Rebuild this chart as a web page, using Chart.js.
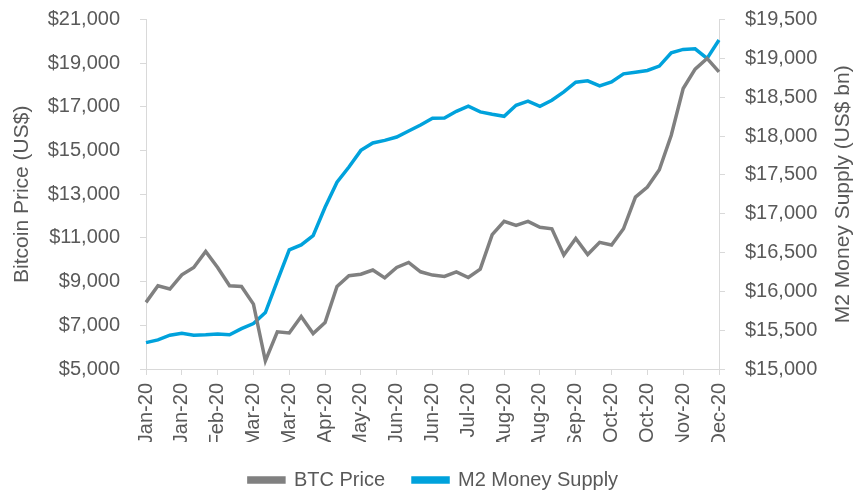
<!DOCTYPE html>
<html lang="en">
  <head>
    <meta charset="UTF-8" />
    <title>BTC price vs M2 money supply</title>
    <style>
      html,
      body {
        margin: 0;
        padding: 0;
        background: #fff;
        overflow: hidden;
      }
      #wrap {
        width: 867px;
        height: 494px;
      }
    </style>
  </head>
  <body>
    <div id="wrap"><canvas id="chart"></canvas></div>
    <script src="https://cdn.jsdelivr.net/npm/chart.js@4.4.1/dist/chart.umd.min.js"></script>
    <script>
      // Weekly observations (Mondays, from 6 Jan 2020), shown as Mon-YY
      const weeks = [
        "Jan-20", "Jan-20", "Jan-20", "Jan-20",
        "Feb-20", "Feb-20", "Feb-20", "Feb-20",
        "Mar-20", "Mar-20", "Mar-20", "Mar-20", "Mar-20",
        "Apr-20", "Apr-20", "Apr-20", "Apr-20",
        "May-20", "May-20", "May-20", "May-20",
        "Jun-20", "Jun-20", "Jun-20", "Jun-20", "Jun-20",
        "Jul-20", "Jul-20", "Jul-20", "Jul-20",
        "Aug-20", "Aug-20", "Aug-20", "Aug-20", "Aug-20",
        "Sep-20", "Sep-20", "Sep-20", "Sep-20",
        "Oct-20", "Oct-20", "Oct-20", "Oct-20",
        "Nov-20", "Nov-20", "Nov-20", "Nov-20", "Nov-20",
        "Dec-20",
      ];

      // Bitcoin price, US$
      const btcPrice = [
        8050, 8810, 8660, 9310, 9650, 10380, 9650, 8810, 8780, 7970,
        5370, 6700, 6650, 7400, 6620, 7130, 8780, 9270, 9340, 9530,
        9170, 9650, 9880, 9450, 9300, 9240, 9450, 9190, 9570, 11150,
        11760, 11570, 11760, 11490, 11420, 10220, 10980, 10240, 10800, 10680,
        11420, 12870, 13330, 14120, 15700, 17840, 18730, 19220, 18600,
      ];

      // M2 money supply, US$ bn
      const m2Supply = [
        15340, 15375, 15435, 15460, 15435, 15440, 15450, 15440, 15520, 15585,
        15727, 16135, 16533, 16597, 16717, 17083, 17405, 17600, 17815, 17910,
        17944, 17987, 18064, 18142, 18228, 18232, 18318, 18383, 18310, 18280,
        18254, 18396, 18448, 18383, 18460, 18568, 18693, 18710, 18645, 18697,
        18800, 18822, 18844, 18900, 19071, 19115, 19123, 19000, 19235,
      ];

      // Axis ranges
      const btcTicks = { min: 5000, max: 21000, step: 2000 };
      const m2Ticks = { min: 15000, max: 19500, step: 500 };
      const labelEvery = 3;
      const rightTitle = "M2 Money Supply (US$ bn)";

      const font = "'Liberation Sans', Arial, sans-serif";
      const textColor = "#595959";
      const axisColor = "#d9d9d9";
      const gray = "#808080";
      const blue = "#00a2dc";

      function dollars(v) {
        return "$" + Number(v).toLocaleString("en-US");
      }

      // Chart.js turns right-hand titles the other way; Excel reads bottom-up.
      const rightTitlePlugin = {
        id: "rightTitle",
        afterDraw(chart) {
          const { ctx, chartArea } = chart;
          ctx.save();
          ctx.translate(843, (chartArea.top + chartArea.bottom) / 2);
          ctx.rotate(-Math.PI / 2);
          ctx.font = "21px " + font;
          ctx.fillStyle = textColor;
          ctx.textAlign = "center";
          ctx.textBaseline = "middle";
          ctx.fillText(rightTitle, 0, 0);
          ctx.restore();
        },
      };

      // fixed box sizes so the plot area lands where the original has it
      function fixY(width) {
        return (scale) => {
          scale.width = width;
          scale.paddingTop = 0;
          scale.paddingBottom = 0;
        };
      }

      Chart.defaults.font.family = font;
      Chart.defaults.color = textColor;

      const ctx = document.getElementById("chart").getContext("2d");
      new Chart(ctx, {
        type: "line",
        data: {
          labels: weeks,
          datasets: [
            {
              label: "BTC Price",
              data: btcPrice,
              yAxisID: "y",
              borderColor: gray,
              backgroundColor: gray,
              borderWidth: 3.5,
              pointRadius: 0,
              tension: 0,
            },
            {
              label: "M2 Money Supply",
              data: m2Supply,
              yAxisID: "y2",
              borderColor: blue,
              backgroundColor: blue,
              borderWidth: 3.5,
              pointRadius: 0,
              tension: 0,
            },
          ],
        },
        plugins: [rightTitlePlugin],
        options: {
          responsive: true,
          maintainAspectRatio: false,
          animation: false,
          layout: { padding: { top: 19.5, left: 0, right: 0, bottom: -6 } },
          plugins: {
            tooltip: { enabled: false },
            legend: {
              position: "bottom",
              labels: {
                boxWidth: 35,
                boxHeight: 4,
                padding: 28,
                color: textColor,
                font: { size: 20 },
              },
            },
          },
          scales: {
            x: {
              offset: false,
              grid: {
                drawOnChartArea: false,
                drawTicks: true,
                tickLength: 6,
                color: axisColor,
              },
              border: { display: true, color: axisColor },
              ticks: {
                autoSkip: false,
                minRotation: 90,
                maxRotation: 90,
                padding: 8,
                font: { size: 20 },
                callback: function (value, index) {
                  return index % labelEvery === 0 ? this.getLabelForValue(value) : null;
                },
              },
              afterFit: (scale) => {
                scale.height = 73;
              },
            },
            y: {
              position: "left",
              min: btcTicks.min,
              max: btcTicks.max,
              grid: {
                drawOnChartArea: false,
                tickLength: 6,
                color: axisColor,
              },
              border: { display: true, color: axisColor },
              ticks: {
                stepSize: btcTicks.step,
                padding: 20,
                font: { size: 20 },
                callback: (v) => dollars(v),
              },
              title: {
                display: true,
                text: "Bitcoin Price (US$)",
                font: { size: 21 },
                padding: { top: 10, bottom: 0 },
              },
              afterFit: fixY(146),
            },
            y2: {
              position: "right",
              min: m2Ticks.min,
              max: m2Ticks.max,
              grid: {
                drawOnChartArea: false,
                tickLength: 6,
                color: axisColor,
              },
              border: { display: true, color: axisColor },
              ticks: {
                stepSize: m2Ticks.step,
                padding: 20,
                font: { size: 20 },
                callback: (v) => dollars(v),
              },
              afterFit: fixY(148),
            },
          },
        },
      });
    </script>
  </body>
</html>
